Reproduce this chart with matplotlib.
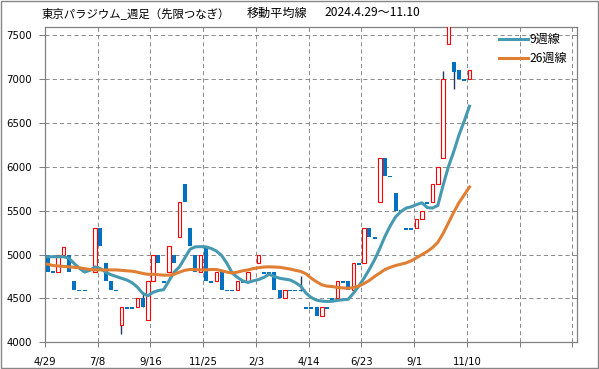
import matplotlib
matplotlib.use('Agg')
import matplotlib.pyplot as plt
from matplotlib.patches import Rectangle

plt.rcParams['font.family'] = ['DejaVu Sans', 'Noto Sans CJK JP']
plt.rcParams['lines.scale_dashes'] = False

# 週足データ (4/29 から 81 週)
date_labels = ['4/29', '7/8', '9/16', '11/25', '2/3', '4/14', '6/23', '9/1', '11/10']

opens = [
    5000, 4810, 4800, 5000, 5000, 4700, 4600, 4600, 4830, 4800,
    5300, 4900, 4700, 4600, 4200, 4400, 4400, 4400, 4500, 4250,
    4700, 5000, 4700, 4800, 5000, 5200, 5800, 5300, 5000, 4800,
    5100, 4700, 4700, 4800, 4600, 4600, 4600, 4700, 4700, 4710,
    4900, 4800, 4800, 4800, 4600, 4500, 4600, 4600, 4600, 4400,
    4400, 4400, 4300, 4400, 4500, 4500, 4700, 4700, 4600, 4900,
    4900, 5300, 5200, 5600, 6100, 5900, 5700, 5510, 5300, 5300,
    5300, 5400, 5600, 5600, 5800, 6100, 7400, 7200, 7100, 7000,
    7000]
closes = [
    4800, 4790, 5000, 5090, 4800, 4600, 4580, 4580, 4815, 5300,
    5100, 4700, 4600, 4580, 4400, 4380, 4380, 4500, 4400, 4700,
    5000, 4900, 4680, 5100, 4900, 5600, 5600, 5100, 4800, 5000,
    4700, 4680, 4800, 4600, 4580, 4580, 4700, 4680, 4800, 4695,
    5000, 4780, 4780, 4600, 4500, 4600, 4580, 4580, 4580, 4380,
    4380, 4300, 4400, 4380, 4460, 4700, 4680, 4600, 4900, 4880,
    5300, 5200, 5180, 6100, 5900, 5880, 5500, 5490, 5280, 5280,
    5400, 5500, 5580, 5800, 6000, 7000, 7600, 7080, 7000, 6980,
    7100]

# ヒゲが見える週
wick_weeks = [14, 18, 48, 75, 77]
wick_highs = [4400, 4560, 4750, 7090, 7200]
wick_lows = [4100, 4400, 4580, 6100, 6890]

ma9 = [
    4975, 4975, 4975, 4975, 4960, 4900, 4845, 4800, 4820, 4860,
    4840, 4800, 4770, 4750, 4730, 4710, 4680, 4630, 4560, 4530,
    4570, 4590, 4600, 4700, 4800, 4860, 4960, 5060, 5088, 5090,
    5088, 5070, 5040, 4990, 4900, 4790, 4740, 4700, 4682, 4700,
    4715, 4740, 4775, 4750, 4730, 4720, 4710, 4680, 4640, 4560,
    4510, 4480, 4470, 4465, 4468, 4478, 4485, 4490, 4560, 4640,
    4730, 4830, 4940, 5070, 5210, 5330, 5430, 5490, 5530, 5545,
    5570, 5590, 5535, 5530, 5560, 5790, 6000, 6170, 6360, 6520,
    6690]
ma26 = [
    4890, 4875, 4870, 4865, 4860, 4855, 4850, 4840, 4830, 4825,
    4825, 4825, 4825, 4825, 4820, 4815, 4810, 4800, 4785, 4775,
    4775, 4770, 4765, 4765, 4775, 4800, 4820, 4830, 4828, 4825,
    4825, 4830, 4830, 4815, 4800, 4790, 4800, 4815, 4825, 4840,
    4850, 4858, 4860, 4858, 4855, 4845, 4835, 4820, 4808, 4780,
    4730, 4690, 4655, 4640, 4635, 4625, 4620, 4615, 4625, 4640,
    4670, 4705, 4750, 4790, 4830, 4855, 4875, 4890, 4905, 4930,
    4965, 5000, 5035, 5080, 5140, 5240, 5360, 5480, 5590, 5680,
    5770]

jp = ['Noto Sans CJK JP', 'DejaVu Sans']
gray = '#808080'

fig = plt.figure(figsize=(5.99, 3.69), dpi=100)
ax = fig.add_axes([45 / 599, 1 - 342.3 / 369, 532.3 / 599, 315 / 369])

x = [i + 0.5 for i in range(len(opens))]

# ヒゲ
ax.vlines([w + 0.5 for w in wick_weeks], wick_lows, wick_highs,
          color='#1F3864', linewidth=1, zorder=2)

# ローソク足
up = [i for i in range(len(opens)) if closes[i] >= opens[i]]
down = [i for i in range(len(opens)) if closes[i] < opens[i]]
ax.bar([x[i] for i in up], [closes[i] - opens[i] for i in up],
       bottom=[opens[i] for i in up], width=0.65,
       facecolor='white', edgecolor='#FF0000', linewidth=0.8, zorder=3)
ax.bar([x[i] for i in down], [opens[i] - closes[i] for i in down],
       bottom=[closes[i] for i in down], width=0.75,
       color='#0070C0', linewidth=0, zorder=3)

# 移動平均線
ax.plot(x, ma9, color='#4599B1', linewidth=2.2, label='9週線', zorder=4)
ax.plot(x, ma26, color='#E07F34', linewidth=2.2, label='26週線', zorder=4)

ax.set_xlim(0, 100.95)
ax.set_ylim(4000, 7590)
ax.set_yticks(range(4000, 7501, 500))
ax.set_xticks(range(0, 101, 10))
ax.set_xticklabels(date_labels + ['', ''])

ax.set_axisbelow(True)
ax.grid(True, color='#8a8a8a', linestyle=(0, (3, 2.2)), linewidth=0.7)
for s in ax.spines.values():
    s.set_color(gray)
    s.set_linewidth(0.9)
ax.tick_params(axis='both', color=gray, width=0.75, labelsize=7.3, labelcolor='black')
ax.tick_params(axis='y', length=4.3, pad=5)
ax.tick_params(axis='x', length=3.6, pad=7)

ax.legend(loc='upper left', bbox_to_anchor=(499 / 599, 1 - 33 / 369),
          bbox_transform=fig.transFigure, frameon=False,
          prop={'family': jp, 'size': 8.7}, handlelength=2.4,
          handletextpad=0.15, labelspacing=0.5, borderpad=0, borderaxespad=0)

# タイトル
fig.text(42 / 599, 1 - 13 / 369, '東京パラジウム_週足（先限つなぎ）',
         family=jp, fontsize=8.2, va='center', ha='left')
fig.text(247 / 599, 1 - 13 / 369, '移動平均線',
         family=jp, fontsize=8.7, va='center', ha='left')
fig.text(324 / 599, 1 - 13 / 369, '2024.4.29～11.10',
         family=jp, fontsize=8.7, va='center', ha='left')

# 外枠
fig.add_artist(Rectangle((1 / 599, 1 / 369), 597 / 599, 367 / 369,
                         transform=fig.transFigure, fill=False,
                         edgecolor='#868686', linewidth=1))

fig.savefig('out.png', dpi=100)
